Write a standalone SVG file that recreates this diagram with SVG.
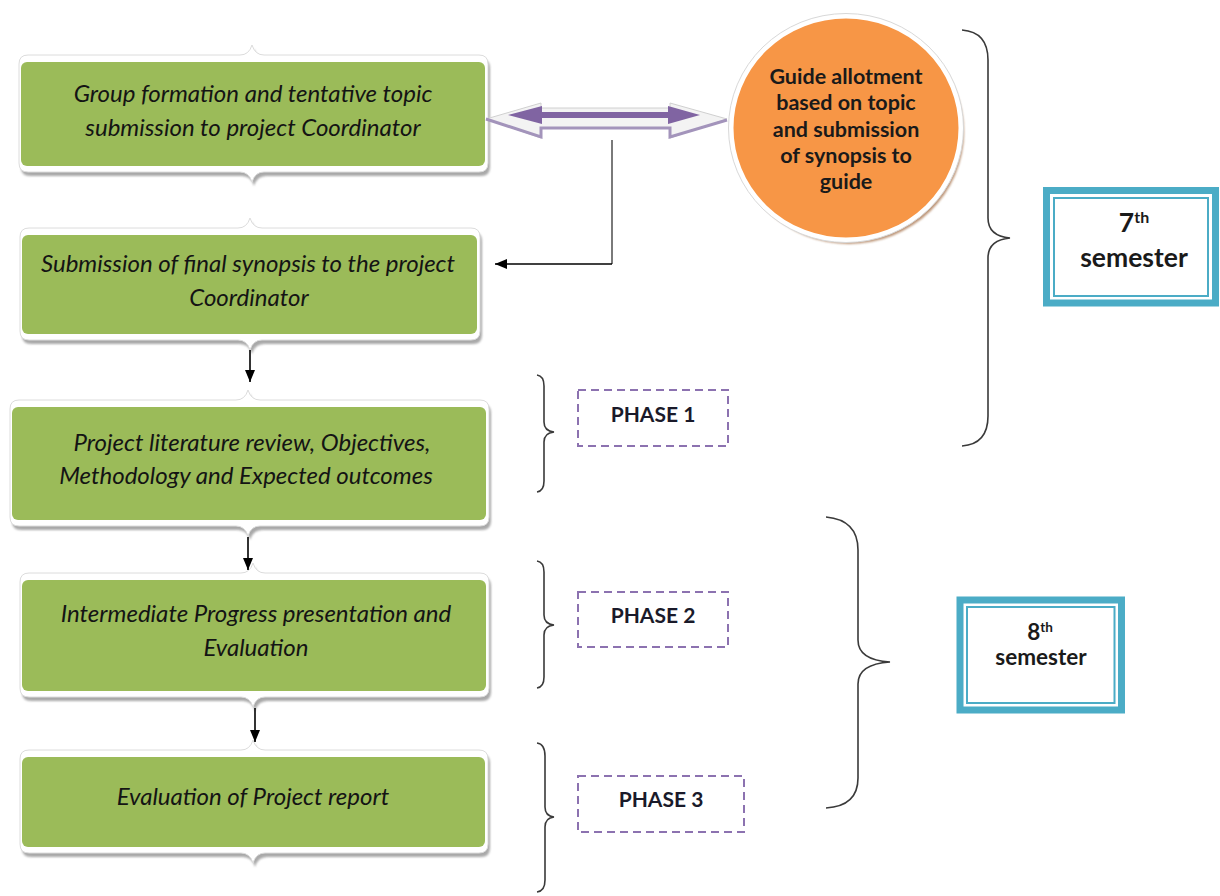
<svg xmlns="http://www.w3.org/2000/svg" xmlns:xlink="http://www.w3.org/1999/xlink" width="1220" height="896" viewBox="0 0 1220 896">
  <style>
    .frame { fill: #ffffff; stroke: #dcdcdc; stroke-width: 1; }
    .shadow { fill: #8c8c8c; opacity: 0.75; }
    .green { fill: #9bbb59; }
    .step { font-family: Lato, "Liberation Sans", sans-serif; font-style: italic; font-size: 24px; fill: #141414; text-anchor: middle; }
    .guide { font-family: Lato, "Liberation Sans", sans-serif; font-weight: bold; font-size: 21.5px; fill: #1a1a1a; text-anchor: middle; }
    .phase-box { fill: none; stroke: #8c72b0; stroke-width: 2; stroke-dasharray: 8 5; }
    .phase { font-family: Lato, "Liberation Sans", sans-serif; font-weight: bold; font-size: 21px; fill: #1a1a2a; text-anchor: middle; }
    .brace { fill: none; stroke: #3a3a3a; stroke-width: 1.6; }
    .sem-outer { fill: #ffffff; stroke: #4bacc6; stroke-width: 7; }
    .sem-inner { fill: none; stroke: #4bacc6; stroke-width: 2; }
    .sem { font-family: Lato, "Liberation Sans", sans-serif; font-weight: bold; fill: #1a1a1a; text-anchor: middle; }
    .link { fill: none; stroke: #000000; stroke-width: 1.6; }
  </style>
  <defs>
    <filter id="soft" x="-5%" y="-10%" width="110%" height="130%">
      <feGaussianBlur stdDeviation="1.2"/>
    </filter>
    <marker id="head" markerUnits="userSpaceOnUse" markerWidth="12" markerHeight="10" refX="12" refY="5" orient="auto">
      <path d="M0,0 L12,5 L0,10 Z" fill="#000000"/>
    </marker>
    <!-- notched white frames behind each step box -->
    <path id="f1" d="M28,55 H240 Q249,55 252,45 Q255,55 264,55 H479 Q488,55 488,64 V163 Q488,172 479,172 H264 Q255,172 252,182 Q249,172 240,172 H28 Q19,172 19,163 V64 Q19,55 28,55 Z"/>
    <path id="f2" d="M29,228 H238 Q247,228 250,218 Q253,228 262,228 H471 Q480,228 480,237 V331 Q480,340 471,340 H262 Q253,340 250,350 Q247,340 238,340 H29 Q20,340 20,331 V237 Q20,228 29,228 Z"/>
    <path id="f3" d="M19,400 H236 Q245,400 248,390 Q251,400 260,400 H480 Q489,400 489,409 V517 Q489,526 480,526 H260 Q251,526 248,536 Q245,526 236,526 H19 Q10,526 10,517 V409 Q10,400 19,400 Z"/>
    <path id="f4" d="M29,573 H241 Q250,573 253,563 Q256,573 265,573 H480 Q489,573 489,582 V688 Q489,697 480,697 H265 Q256,697 253,707 Q250,697 241,697 H29 Q20,697 20,688 V582 Q20,573 29,573 Z"/>
    <path id="f5" d="M29,750 H241 Q250,750 253,740 Q256,750 265,750 H479 Q488,750 488,759 V844 Q488,853 479,853 H265 Q256,853 253,863 Q250,853 241,853 H29 Q20,853 20,844 V759 Q20,750 29,750 Z"/>
  </defs>

  <rect width="1220" height="896" fill="#ffffff"/>

  <!-- step boxes -->
  <g id="step-group-formation">
    <use xlink:href="#f1" class="shadow" transform="translate(2,4)" filter="url(#soft)"/>
    <use xlink:href="#f1" class="frame"/>
    <rect class="green" x="21" y="62" width="464" height="104" rx="6"/>
    <text class="step" x="253" y="102">Group formation and tentative topic</text>
    <text class="step" x="253" y="136">submission to project Coordinator</text>
  </g>

  <g id="step-final-synopsis">
    <use xlink:href="#f2" class="shadow" transform="translate(2,4)" filter="url(#soft)"/>
    <use xlink:href="#f2" class="frame"/>
    <rect class="green" x="22" y="235" width="455" height="99" rx="6"/>
    <text class="step" x="248" y="272">Submission of final synopsis to the project</text>
    <text class="step" x="249" y="306">Coordinator</text>
  </g>

  <g id="step-literature-review">
    <use xlink:href="#f3" class="shadow" transform="translate(2,4)" filter="url(#soft)"/>
    <use xlink:href="#f3" class="frame"/>
    <rect class="green" x="12" y="407" width="474" height="113" rx="6"/>
    <text class="step" x="252" y="451">Project literature review, Objectives,</text>
    <text class="step" x="246" y="484">Methodology and Expected outcomes</text>
  </g>

  <g id="step-intermediate">
    <use xlink:href="#f4" class="shadow" transform="translate(2,4)" filter="url(#soft)"/>
    <use xlink:href="#f4" class="frame"/>
    <rect class="green" x="22" y="580" width="464" height="111" rx="6"/>
    <text class="step" x="256" y="622">Intermediate Progress presentation and</text>
    <text class="step" x="256" y="656">Evaluation</text>
  </g>

  <g id="step-report">
    <use xlink:href="#f5" class="shadow" transform="translate(2,4)" filter="url(#soft)"/>
    <use xlink:href="#f5" class="frame"/>
    <rect class="green" x="22" y="757" width="463" height="90" rx="6"/>
    <text class="step" x="253" y="805">Evaluation of Project report</text>
  </g>

  <!-- guide allotment circle -->
  <g id="guide-allotment">
    <ellipse cx="849" cy="132" rx="115" ry="112" fill="#a0683c" opacity="0.7" filter="url(#soft)"/>
    <ellipse cx="846" cy="128" rx="115" ry="112" fill="#f79646" stroke="#ffffff" stroke-width="5"/>
    <ellipse cx="846" cy="128" rx="117.5" ry="114.5" fill="none" stroke="#d8d8d8" stroke-width="1"/>
    <text class="guide" x="846" y="84">Guide allotment</text>
    <text class="guide" x="846" y="110">based on topic</text>
    <text class="guide" x="846" y="137">and submission</text>
    <text class="guide" x="846" y="163">of synopsis to</text>
    <text class="guide" x="846" y="189">guide</text>
  </g>

  <!-- connectors -->
  <g id="connectors">
    <!-- two-way arrow between first step and guide circle -->
    <polygon points="486,119 541,103 541,108 670,108 670,103 727,119 670,138 670,128 541,128 541,138" fill="#f3f3f3" stroke="#d0d0d0" stroke-width="1"/>
    <path d="M486,119 L541,137 L541,128 L670,128 L670,137 L727,120" fill="none" stroke="#a394bb" stroke-width="3"/>
    <rect x="538" y="112" width="134" height="6" fill="#8064a2"/>
    <polygon points="508,115 542,106 542,124" fill="#8064a2"/>
    <polygon points="700,115 668,106 668,124" fill="#8064a2"/>
    <!-- elbow to final synopsis -->
    <path d="M612,140 V264" fill="none" stroke="#7a7a7a" stroke-width="2"/>
    <path class="link" d="M612,264 H495" marker-end="url(#head)"/>
    <!-- downward steps -->
    <path class="link" d="M250,350 V382" marker-end="url(#head)"/>
    <path class="link" d="M248,537 V570" marker-end="url(#head)"/>
    <path class="link" d="M255,708 V742" marker-end="url(#head)"/>
  </g>

  <!-- braces -->
  <g id="braces">
    <path class="brace" d="M962,30 Q988,32 988,60 L988,218 Q988,236 1010,238 Q988,240 988,258 L988,416 Q988,444 962,446"/>
    <path class="brace" d="M537,375 Q544,376 544,386 L544,422 Q544,431 554,432 Q544,433 544,442 L544,481 Q544,491 537,492"/>
    <path class="brace" d="M537,561 Q544,562 544,572 L544,615 Q544,624 554,625 Q544,626 544,635 L544,677 Q544,687 537,688"/>
    <path class="brace" d="M537,743 Q545,744 545,756 L545,807 Q545,816 554,817 Q545,818 545,827 L545,880 Q545,891 537,892"/>
    <path class="brace" d="M826,517 Q858,520 858,550 L858,640 Q858,660 890,662 Q858,664 858,684 L858,778 Q858,806 826,808"/>
  </g>

  <!-- phase labels -->
  <g id="phase-1">
    <rect class="phase-box" x="578" y="390" width="150" height="56"/>
    <text class="phase" x="653" y="422">PHASE 1</text>
  </g>
  <g id="phase-2">
    <rect class="phase-box" x="578" y="592" width="150" height="55"/>
    <text class="phase" x="653" y="623">PHASE 2</text>
  </g>
  <g id="phase-3">
    <rect class="phase-box" x="578" y="776" width="166" height="56"/>
    <text class="phase" x="661" y="807">PHASE 3</text>
  </g>

  <!-- semester boxes -->
  <g id="semester-7">
    <rect class="sem-outer" x="1046.5" y="190.5" width="169" height="112.5"/>
    <rect class="sem-inner" x="1054" y="198" width="154" height="98"/>
    <text class="sem" x="1134" y="232" font-size="26.5">7<tspan font-size="16" dy="-9">th</tspan></text>
    <text class="sem" x="1134" y="267" font-size="26.5">semester</text>
  </g>
  <g id="semester-8">
    <rect class="sem-outer" x="960" y="600" width="161.5" height="110"/>
    <rect class="sem-inner" x="967" y="607" width="147.5" height="96"/>
    <text class="sem" x="1040" y="640" font-size="22.5">8<tspan font-size="13.5" dy="-8">th</tspan></text>
    <text class="sem" x="1041" y="665" font-size="22.5">semester</text>
  </g>
</svg>
